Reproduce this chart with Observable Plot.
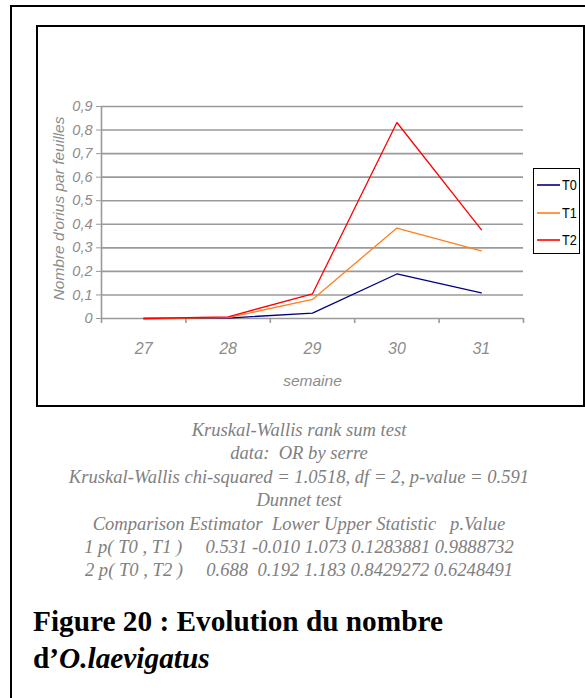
<!DOCTYPE html>
<html>
<head>
<meta charset="utf-8">
<script src="https://cdn.jsdelivr.net/npm/d3@7"></script>
<script src="https://cdn.jsdelivr.net/npm/@observablehq/plot@0.6"></script>
<style>
  html, body { margin: 0; padding: 0; background: #fff; }
  body { width: 585px; height: 698px; position: relative; overflow: hidden; }
  #outer { position: absolute; left: 10px; top: 5px; width: 600px; height: 720px; border: 2px solid #000; box-sizing: border-box; }
  #inner { position: absolute; left: 36px; top: 25px; width: 549px; height: 382px; border: 2px solid #000; box-sizing: border-box; background: #fff; }
  #chart { position: absolute; left: 0; top: 0; }
  #legend { position: absolute; left: 533px; top: 168px; width: 47px; height: 86px; border: 1.5px solid #000; box-sizing: border-box; background: #fff;
            font-family: "Liberation Sans", Arial, sans-serif; font-size: 15.5px; }
  .lg { position: absolute; left: 3px; height: 16px; display: flex; align-items: center; }
  .lg svg { display: block; }
  .lg span { display: inline-block; margin-left: 1.5px; transform: scaleX(0.82); transform-origin: left center; }
  #stats { position: absolute; left: 0; width: 598px; top: 418px; text-align: center; color: #808080;
           font-family: "Liberation Serif", "Times New Roman", serif; font-style: italic; font-size: 18.6px; line-height: 23.4px; white-space: pre; }
  #title { position: absolute; left: 33px; top: 603px; font-family: "Liberation Serif", "Times New Roman", serif; font-weight: bold; font-size: 29.3px; line-height: 37px; color: #000; white-space: nowrap; }
</style>
</head>
<body>
<div id="outer"></div>
<div id="inner"><div id="chart"></div></div>
<div id="legend"></div>
<div id="stats"></div>
<div id="title">Figure 20 : Evolution du nombre<br>d’<i>O.laevigatus</i></div>
<script>
const weeks = [27, 28, 29, 30, 31];
const seriesNames = ["T0", "T1", "T2"];
const seriesColors = ["#000080", "#ff7f1f", "#ff0000"];
const T0 = [0, 0.002, 0.023, 0.189, 0.109];
const T1 = [0, 0.004, 0.081, 0.384, 0.287];
const T2 = [0, 0.007, 0.105, 0.832, 0.377];
const yTicks = [0, 0.1, 0.2, 0.3, 0.4, 0.5, 0.6, 0.7, 0.8, 0.9];
const yLabel = "Nombre d'orius par feuilles";
const xLabel = "semaine";
const statLines = [
  "Kruskal-Wallis rank sum test",
  "data:  OR by serre",
  "Kruskal-Wallis chi-squared = 1.0518, df = 2, p-value = 0.591",
  "Dunnet test",
  "Comparison Estimator  Lower Upper Statistic   p.Value",
  "1 p( T0 , T1 )     0.531 -0.010 1.073 0.1283881 0.9888732",
  "2 p( T0 , T2 )     0.688  0.192 1.183 0.8429272 0.6248491"
];

const allSeries = [T0, T1, T2];
const data = [];
seriesNames.forEach((s, i) => weeks.forEach((w, j) => data.push({ serie: s, week: w, value: allSeries[i][j] })));
const bounds = [weeks[0] - 0.5, ...weeks.map(w => w + 0.5)];

const grey = "#8c8c8c";
const tickFont = "'Liberation Sans', Arial, sans-serif";

const plot = Plot.plot({
  width: 545,
  height: 378,
  marginLeft: 63,
  marginRight: 60,
  marginTop: 79,
  marginBottom: 87,
  style: { fontFamily: tickFont, background: "transparent", overflow: "visible" },
  x: { type: "linear", domain: [bounds[0], bounds[bounds.length - 1]] },
  y: { domain: [0, 0.9] },
  color: { domain: seriesNames, range: seriesColors },
  marks: [
    Plot.ruleY(yTicks, { stroke: "#9a9a9a", strokeWidth: 1.6 }),
    Plot.ruleX([bounds[0]], { y1: 0, y2: 0.9, stroke: "#9a9a9a", strokeWidth: 1.6 }),
    Plot.axisY({ ticks: yTicks, tickSize: 5, tickPadding: 4, stroke: "#9a9a9a", tickFormat: d => d === 0 ? "0" : d3.format(".1f")(d).replace(".", ","),
                 fontSize: 14.5, fill: grey, fontStyle: "italic", label: null }),
    Plot.axisX({ ticks: bounds, tickSize: 5, stroke: "#9a9a9a", strokeWidth: 1.6, tickFormat: () => "", label: null }),
    Plot.axisX({ ticks: weeks, tickSize: 0, tickPadding: 24, tickFormat: d => String(d), fontSize: 16, fill: grey, fontStyle: "italic", label: null }),
    Plot.text([xLabel], { frameAnchor: "bottom", lineAnchor: "middle", dy: 63, fontSize: 15.5, fill: grey, fontStyle: "italic" }),
    Plot.text([yLabel], { frameAnchor: "left", textAnchor: "middle", lineAnchor: "middle", dx: -42, dy: -4, rotate: -90, fontSize: 15.5, fill: grey, fontStyle: "italic" }),
    Plot.line(data, { x: "week", y: "value", z: "serie", stroke: "serie", strokeWidth: 1.3 })
  ]
});
document.getElementById("chart").appendChild(plot);

const legend = document.getElementById("legend");
seriesNames.forEach((s, i) => {
  const row = document.createElement("div");
  row.className = "lg";
  row.style.top = (7.8 + i * 27.7) + "px";
  row.innerHTML = `<svg width="23" height="4"><line x1="0" x2="23" y1="2" y2="2" stroke="${seriesColors[i]}" stroke-width="1.6"/></svg><span>${s}</span>`;
  legend.appendChild(row);
});

document.getElementById("stats").textContent = statLines.join("\n");
</script>
</body>
</html>
